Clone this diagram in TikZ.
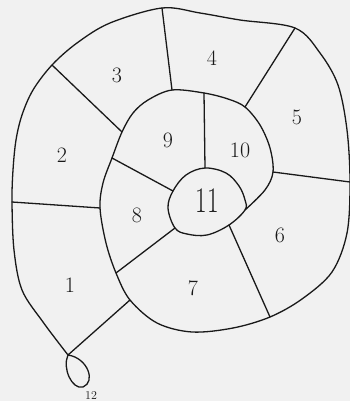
\documentclass[tikz,border=0pt]{standalone}
\usepackage{graphicx}
\definecolor{paper}{RGB}{241,241,241}
\definecolor{ink}{RGB}{25,25,25}
\tikzset{
  line/.style={draw=ink, line width=1.3pt, line join=round, line cap=round},
  num/.style={text=ink, font=\fontsize{22}{22}\selectfont, inner sep=0pt},
  small/.style={text=ink, font=\fontsize{12}{12}\selectfont, inner sep=0pt}
}
\begin{document}
\begin{tikzpicture}[x=1pt,y=-1pt]
\fill[paper] (0,0) rectangle (350,401);
\useasboundingbox (0,0) rectangle (350,401);
% key points
\coordinate (s0) at (68,355);
\coordinate (o12) at (12,202);
\coordinate (o23) at (52,65);
\coordinate (o34) at (162,8);
\coordinate (o45) at (295,28);
\coordinate (o56) at (350,182);
\coordinate (o67) at (270,317);
\coordinate (i01) at (130,300);
\coordinate (i78) at (116,273);
\coordinate (i12) at (100,208);
\coordinate (i89) at (112,158);
\coordinate (i23) at (122,132);
\coordinate (i34) at (172,90);
\coordinate (i910) at (204,93);
\coordinate (i45) at (245,107);
\coordinate (i56) at (273,172);
\coordinate (c) at (245,210);
\coordinate (c89) at (173,191);
\coordinate (c910) at (205,168);
\coordinate (c67) at (229,225);
\coordinate (c78) at (175,228);
% spiral
\draw[line] plot[smooth, tension=0.55] coordinates {
  (s0) (43,322) (22,290) (14,250) (o12) (13,170) (16,140) (22,115) (33,90) (o23)
  (77,43) (110,23) (o34) (200,13) (240,20) (o45) (320,53) (338,85) (347,130)
  (o56) (347,233) (332,272) (302,299) (o67) (233,328) (192,332) (157,323)
  (i01) (i78) (106,243) (i12) (103,183) (i89) (i23) (133,113) (148,100)
  (i34) (i910) (228,99) (i45) (260,125) (270,148) (i56) (265,190) (c)};
% centre
\draw[line] plot[smooth cycle, tension=0.6] coordinates {
  (c89) (186,175) (c910) (226,173) (239,186) (245,200) (c) (c67) (207,235)
  (187,234) (c78) (168,208)};
% loop 12
\draw[line] (s0) .. controls (88,358) and (96,382) .. (83,387)
  .. controls (72,390) and (62,368) .. (s0);
% dividers
\draw[line] (s0) -- (i01);
\draw[line] (o12) -- (i12);
\draw[line] (o23) -- (i23);
\draw[line] (o34) -- (i34);
\draw[line] (o45) -- (i45);
\draw[line] (i56) -- (o56);
\draw[line] (c67) -- (o67);
\draw[line] (i78) -- (c78);
\draw[line] (i89) -- (c89);
\draw[line] (i910) -- (c910);
% labels
\node[num] (n1) at (70,285) {1};
\node[num] (n2) at (62,155) {2};
\node[num] (n3) at (117,75) {3};
\node[num] (n4) at (212,58) {4};
\node[num] (n5) at (297,117) {5};
\node[num] (n6) at (280,235) {6};
\node[num] (n7) at (193,288) {7};
\node[num] (n8) at (137,215) {8};
\node[num] (n9) at (168,140) {9};
\node[num] (n10) at (240,150) {10};
\node[text=ink, inner sep=0pt, font=\fontsize{36}{36}\selectfont] (n11) at (207,201) {\scalebox{0.7}[1]{11}};
\node[small] (n12) at (91,396) {12};
\end{tikzpicture}
\end{document}
